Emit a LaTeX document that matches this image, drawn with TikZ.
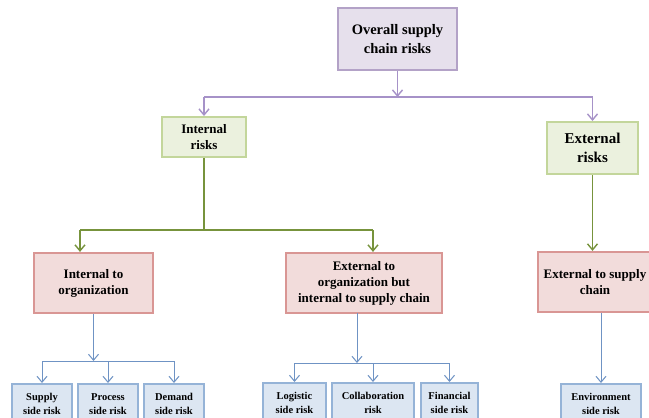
\documentclass[tikz,border=0pt]{standalone}
\usepackage{fontspec}
\setmainfont{Liberation Serif}
\usetikzlibrary{arrows.meta}
\definecolor{pfill}{HTML}{E6E0EC}
\definecolor{pdraw}{HTML}{B3A2C7}
\definecolor{pline}{HTML}{A692C8}
\definecolor{gfill}{HTML}{EBF1DE}
\definecolor{gdraw}{HTML}{C3D69B}
\definecolor{gline}{HTML}{77933C}
\definecolor{rfill}{HTML}{F2DCDB}
\definecolor{rdraw}{HTML}{D99694}
\definecolor{bfill}{HTML}{DCE6F2}
\definecolor{bdraw}{HTML}{95B3D7}
\definecolor{bline}{HTML}{6F93C4}
\tikzset{
  box/.style={draw, line width=2pt, inner sep=2pt, align=center, font=\bfseries},
  pbox/.style={box, fill=pfill, draw=pdraw},
  gbox/.style={box, fill=gfill, draw=gdraw},
  rbox/.style={box, fill=rfill, draw=rdraw, line width=2.2pt},
  bbox/.style={box, fill=bfill, draw=bdraw, anchor=north, minimum height=40pt, font=\bfseries\fontsize{10.5}{13.5}\selectfont},
  arr/.style={-{Straight Barb[length=6pt,width=10pt]}},
  pl/.style={draw=pline, line width=1.4pt},
  gl/.style={draw=gline, line width=1.4pt},
  bl/.style={draw=bline, line width=1pt},
}
\begin{document}
\begin{tikzpicture}[x=1pt,y=-1pt]
\clip (0,0) rectangle (649,418);
\fill[white] (0,0) rectangle (649,418);
% top
\node[pbox, minimum width=119pt, minimum height=62pt, font=\bfseries\fontsize{14.5}{19}\selectfont] (overall) at (397.5,39) {Overall supply\\chain risks};
\node[gbox, minimum width=84pt, minimum height=40pt, font=\bfseries\fontsize{13}{16}\selectfont] (internal) at (204,137) {Internal\\risks};
\node[gbox, minimum width=91pt, minimum height=52pt, font=\bfseries\fontsize{15}{19}\selectfont] (external) at (592.5,148) {External\\risks};
\node[rbox, minimum width=119pt, minimum height=60pt, font=\bfseries\fontsize{13}{16}\selectfont] (intorg) at (93.5,283) {Internal to\\organization};
\node[rbox, minimum width=156pt, minimum height=60pt, font=\bfseries\fontsize{13}{16}\selectfont] (extorg) at (364,283) {External to\\organization but\\internal to supply chain};
\node[rbox, minimum width=114pt, minimum height=60pt, font=\bfseries\fontsize{13}{16}\selectfont] (extsc) at (595,282) {External to supply\\chain};
% bottom
\node[bbox, minimum width=60pt] (supply) at (42,383) {Supply\\side risk};
\node[bbox, minimum width=60pt] (process) at (108,383) {Process\\side risk};
\node[bbox, minimum width=60pt] (demand) at (174,383) {Demand\\side risk};
\node[bbox, minimum width=63pt] (logistic) at (294.5,382) {Logistic\\side risk};
\node[bbox, minimum width=82pt] (collab) at (373,382) {Collaboration\\risk};
\node[bbox, minimum width=57pt] (financial) at (449.5,382) {Financial\\side risk};
\node[bbox, minimum width=80pt] (environ) at (601,383) {Environment\\side risk};
% connectors purple
\coordinate (p0) at (overall.south |- 0,97);
\coordinate (pL) at (internal.north |- 0,97);
\coordinate (pR) at (external.north |- 0,97);
\draw[pl, arr] (overall.south) -- (p0);
\draw[pl] (pL) -- (pR);
\draw[pl, arr] (pL) -- (internal.north);
\draw[pl, arr] (pR) -- (external.north);
% green
\coordinate (g0) at (internal.south |- 0,230);
\coordinate (gL) at (80,230);
\coordinate (gR) at (373,230);
\draw[gl] (internal.south) -- (g0);
\draw[gl] (gL) -- (gR);
\draw[gl, arr] (gL) -- (gL |- intorg.north);
\draw[gl, arr] (gR) -- (gR |- extorg.north);
\draw[gl, arr] (external.south) -- (external.south |- extsc.north);
% blue left
\coordinate (b0) at (intorg.south |- 0,361);
\coordinate (bL) at (supply.north |- 0,361);
\coordinate (bR) at (demand.north |- 0,361);
\draw[bl, arr] (intorg.south) -- (b0);
\draw[bl] (bL) -- (bR);
\draw[bl, arr] (bL) -- (supply.north);
\draw[bl, arr] (process.north |- 0,361) -- (process.north);
\draw[bl, arr] (bR) -- (demand.north);
% blue middle
\coordinate (c0) at (357,363);
\coordinate (cL) at (logistic.north |- 0,363);
\coordinate (cR) at (financial.north |- 0,363);
\draw[bl, arr] (357,313) -- (c0);
\draw[bl] (cL) -- (cR);
\draw[bl, arr] (cL) -- (logistic.north);
\draw[bl, arr] (collab.north |- 0,363) -- (collab.north);
\draw[bl, arr] (cR) -- (financial.north);
% blue right
\draw[bl, arr] (environ.north |- extsc.south) -- (environ.north);
\end{tikzpicture}
\end{document}
